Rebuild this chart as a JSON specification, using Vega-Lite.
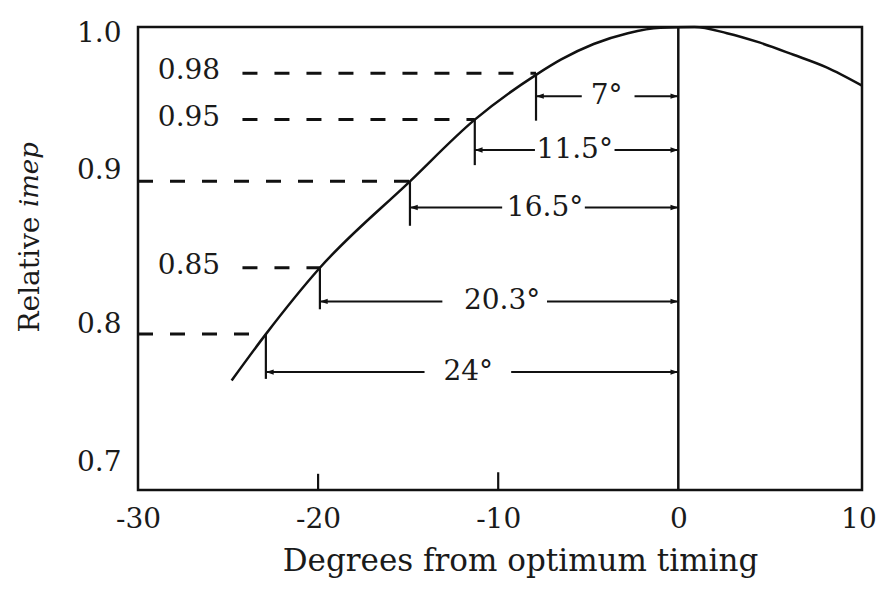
{
  "$schema": "https://vega.github.io/schema/vega-lite/v6.json",
  "width": 724,
  "height": 463,
  "autosize": {"type": "none"},
  "padding": {"left": 138, "top": 27, "right": 22, "bottom": 104},
  "background": "white",
  "config": {
    "view": {"stroke": "#111", "strokeWidth": 2.5},
    "font": "DejaVu Serif"
  },
  "datasets": {
    "curve": [
      {"deg": -24.8, "imep": 0.771},
      {"deg": -22.9, "imep": 0.801},
      {"deg": -19.9, "imep": 0.844},
      {"deg": -14.9, "imep": 0.9},
      {"deg": -11.3, "imep": 0.94},
      {"deg": -7.9, "imep": 0.969},
      {"deg": -6.5, "imep": 0.979},
      {"deg": -4.7, "imep": 0.989},
      {"deg": -2.8, "imep": 0.996},
      {"deg": -1.0, "imep": 0.9995},
      {"deg": 0.9, "imep": 1.0},
      {"deg": 2.7, "imep": 0.996},
      {"deg": 4.5, "imep": 0.99},
      {"deg": 6.4, "imep": 0.982},
      {"deg": 8.2, "imep": 0.974},
      {"deg": 10.2, "imep": 0.962}
    ],
    "levels": [
      {"lvl": 0.97, "xs": -24.2, "xt": -7.9, "tb": 0.9393, "ay": 0.9552, "l2": -5.36, "r1": -2.43, "deg": "7°", "tx": -3.98},
      {"lvl": 0.94, "xs": -24.2, "xt": -11.3, "tb": 0.9105, "ay": 0.9203, "l2": -7.96, "r1": -3.54, "deg": "11.5°", "tx": -5.75},
      {"lvl": 0.9, "xs": -30, "xt": -14.9, "tb": 0.8712, "ay": 0.883, "l2": -9.78, "r1": -5.19, "deg": "16.5°", "tx": -7.4},
      {"lvl": 0.844, "xs": -24.2, "xt": -19.9, "tb": 0.8171, "ay": 0.8222, "l2": -13.1, "r1": -7.29, "deg": "20.3°", "tx": -9.78},
      {"lvl": 0.801, "xs": -30, "xt": -22.9, "tb": 0.772, "ay": 0.7764, "l2": -14.09, "r1": -9.28, "deg": "24°", "tx": -11.66}
    ],
    "levelLabels": [
      {"t": "0.98", "lvl": 0.97},
      {"t": "0.95", "lvl": 0.94},
      {"t": "0.85", "lvl": 0.844}
    ],
    "xticks": [
      {"v": -20, "y0": 0.7, "y1": 0.7105},
      {"v": -10, "y0": 0.7, "y1": 0.7115}
    ]
  },
  "layer": [
    {
      "data": {"name": "curve"},
      "mark": {"type": "line", "color": "#111", "strokeWidth": 2.5, "interpolate": "monotone"},
      "encoding": {
        "x": {
          "field": "deg", "type": "quantitative",
          "scale": {"domain": [-30, 10.2], "nice": false, "zero": false},
          "axis": {
            "title": "Degrees from optimum timing",
            "values": [-30, -20, -10, 0, 10],
            "labelExpr": "datum.value + ''",
            "grid": false, "domain": false, "ticks": false,
            "labelFont": "DejaVu Serif", "labelFontSize": 28, "labelColor": "#1a1a1a",
            "labelBaseline": "alphabetic", "labelPadding": 37,
            "labelFlush": false, "labelOverlap": false,
            "titleFont": "DejaVu Serif", "titleFontSize": 31, "titleFontWeight": "normal", "titleColor": "#1a1a1a",
            "titleX": 382, "titleY": 80, "titleBaseline": "alphabetic", "titleAlign": "center"
          }
        },
        "y": {
          "field": "imep", "type": "quantitative",
          "scale": {"domain": [0.7, 1.0], "nice": false, "zero": false},
          "axis": {
            "title": "Relative",
            "values": [0.7, 0.8, 0.9, 1.0],
            "labelExpr": "format(datum.value, '.1f')",
            "grid": false, "domain": false, "ticks": false,
            "labelFont": "DejaVu Serif", "labelFontSize": 28, "labelColor": "#1a1a1a",
            "labelPadding": 17, "labelBaseline": "middle", "labelFlush": false, "labelOverlap": false,
            "labelOffset": {"condition": [{"test": "datum.value > 0.95", "value": 6}, {"test": "datum.value < 0.75", "value": -28}], "value": -11},
            "titleFont": "DejaVu Serif", "titleFontSize": 28, "titleFontWeight": "normal", "titleColor": "#1a1a1a",
            "titleX": -108, "titleY": 305, "titleAlign": "left", "titleBaseline": "middle", "titleAngle": 270
          }
        }
      }
    },
    {
      "data": {"values": [{}]},
      "mark": {"type": "rule", "color": "#111", "strokeWidth": 2.5},
      "encoding": {"x": {"datum": 0, "type": "quantitative"}}
    },
    {
      "data": {"name": "xticks"},
      "mark": {"type": "rule", "color": "#111", "strokeWidth": 2.2},
      "encoding": {
        "x": {"field": "v", "type": "quantitative"},
        "y": {"field": "y0", "type": "quantitative"},
        "y2": {"field": "y1"}
      }
    },
    {
      "data": {"name": "levels"},
      "mark": {"type": "rule", "color": "#111", "strokeWidth": 3, "strokeDash": [15, 17]},
      "encoding": {
        "x": {"field": "xs", "type": "quantitative"},
        "x2": {"field": "xt"},
        "y": {"field": "lvl", "type": "quantitative"}
      }
    },
    {
      "data": {"name": "levels"},
      "mark": {"type": "rule", "color": "#111", "strokeWidth": 2.2},
      "encoding": {
        "x": {"field": "xt", "type": "quantitative"},
        "y": {"field": "lvl", "type": "quantitative"},
        "y2": {"field": "tb"}
      }
    },
    {
      "data": {"name": "levels"},
      "mark": {"type": "rule", "color": "#111", "strokeWidth": 2},
      "encoding": {
        "x": {"field": "xt", "type": "quantitative"},
        "x2": {"field": "l2"},
        "y": {"field": "ay", "type": "quantitative"}
      }
    },
    {
      "data": {"name": "levels"},
      "mark": {"type": "rule", "color": "#111", "strokeWidth": 2},
      "encoding": {
        "x": {"field": "r1", "type": "quantitative"},
        "x2": {"datum": 0},
        "y": {"field": "ay", "type": "quantitative"}
      }
    },
    {
      "data": {"name": "levels"},
      "mark": {"type": "point", "shape": "M0,0L2.6,-0.9L2.6,0.9Z", "size": 36, "filled": true, "opacity": 1, "color": "#111"},
      "encoding": {
        "x": {"field": "xt", "type": "quantitative"},
        "y": {"field": "ay", "type": "quantitative"}
      }
    },
    {
      "data": {"name": "levels"},
      "mark": {"type": "point", "shape": "M0,0L-2.6,-0.9L-2.6,0.9Z", "size": 36, "filled": true, "opacity": 1, "color": "#111"},
      "encoding": {
        "x": {"datum": 0, "type": "quantitative"},
        "y": {"field": "ay", "type": "quantitative"}
      }
    },
    {
      "data": {"name": "levels"},
      "mark": {"type": "text", "font": "DejaVu Serif", "fontSize": 28, "color": "#1a1a1a", "align": "center", "baseline": "middle"},
      "encoding": {
        "x": {"field": "tx", "type": "quantitative"},
        "y": {"field": "ay", "type": "quantitative"},
        "text": {"field": "deg"}
      }
    },
    {
      "data": {"name": "levelLabels"},
      "mark": {"type": "text", "font": "DejaVu Serif", "fontSize": 28, "color": "#1a1a1a", "align": "left", "baseline": "middle", "dy": -2},
      "encoding": {
        "x": {"datum": -28.9, "type": "quantitative"},
        "y": {"field": "lvl", "type": "quantitative"},
        "text": {"field": "t"}
      }
    },
    {
      "data": {"values": [{}]},
      "mark": {"type": "text", "text": "imep", "font": "DejaVu Serif", "fontSize": 26, "fontStyle": "italic", "color": "#1a1a1a", "angle": 270, "align": "left", "baseline": "middle", "dy": -108},
      "encoding": {
        "x": {"datum": -30, "type": "quantitative"},
        "y": {"datum": 0.8833, "type": "quantitative"}
      }
    }
  ]
}
